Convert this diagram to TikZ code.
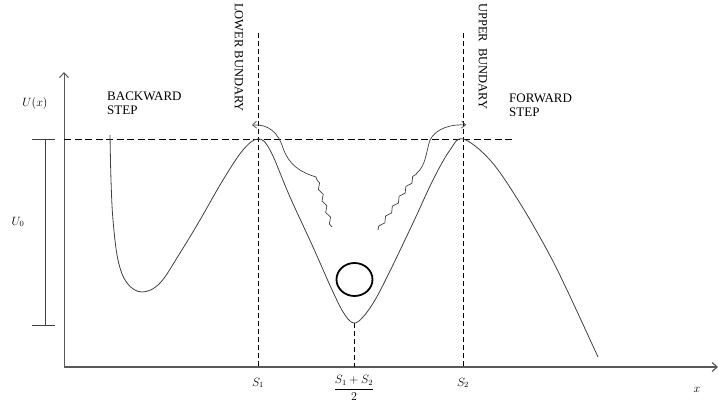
\documentclass[tikz,border=0pt]{standalone}
\usepackage{amsmath}
\usepackage{fontspec}
\setmainfont{Liberation Serif}
\usetikzlibrary{arrows.meta,decorations.pathmorphing}

\tikzset{
  steplbl/.style={font=\fontsize{13}{13.5}\selectfont,align=left,inner sep=0pt,anchor=north west},
  bndlbl/.style={font=\fontsize{12.5}{13.5}\selectfont,inner sep=0pt,rotate=-90,anchor=west},
  mathlbl/.style={font=\fontsize{12}{14}\selectfont,inner sep=1pt},
  potential/.style={black!75,line width=0.8pt},
  wiggle/.style={black!75,line width=0.7pt,decorate,decoration={snake,amplitude=1.6pt,segment length=12pt}},
  jump/.style={black!75,line width=0.7pt,-{Straight Barb[length=4pt,width=7pt]}},
  guide/.style={dash pattern=on 5pt off 3pt,line width=0.6pt},
}

\begin{document}
\begin{tikzpicture}[x=1pt,y=-1pt]
\useasboundingbox (0,0) rectangle (718,411);
% key points
\coordinate (origin) at (64,367);
\coordinate (peakL) at (258,139);
\coordinate (peakR) at (463,139);
\coordinate (well) at (354,323);

% axes
\draw[black!65,line width=1pt,-{Straight Barb[length=5pt,width=9pt]}] (origin) -- (64,72);
\draw[black!65,line width=1.2pt,-{Straight Barb[length=5pt,width=9pt]}] (origin) -- (718,367);
\node[mathlbl] (ulab) at (35,104) {$U(x)$};
\node[mathlbl] (xlab) at (697,390) {$x$};

% barrier height
\draw[black!75] (32,139) -- (55,139);
\draw[black!75] (32,325) -- (55,325);
\draw[black!75] (45,139) -- (45,325);
\node[mathlbl] (u0) at (18,222) {$U_0$};

% boundaries
\draw[guide,dash pattern=on 7pt off 3.5pt] (64,139) -- (512,139);
\draw[guide] (258,33) -- (258,367);
\draw[guide] (463,33) -- (463,367);
\draw[guide] (well) -- (354,367);
\node[bndlbl] (lowb) at (239,3) {LOWER BUNDARY};
\node[bndlbl] (uppb) at (483,3) {UPPER\ \ BUNDARY};
\node[steplbl] (back) at (107,92) {BACKWARD\\STEP};
\node[steplbl] (fwd) at (509,94) {FORWARD\\STEP};

% potential
\draw[potential] plot[smooth,tension=0.6] coordinates {
  (110,135) (111,180) (113,220) (118,260) (127,283) (142,292) (160,283)
  (180,253) (200,220) (223,180) (243,150) (258,139) (270,150) (290,197)
  (313,247) (333,292) (345,315) (354,323) (363,317) (375,300) (390,271)
  (413,223) (433,180) (450,150) (463,139) (490,160) (518,200) (547,250)
  (567,290) (598,357)};

% particle
\draw[line width=1.8pt] (354.5,279.5) ellipse (18 and 16.5);

% thermal jumps
\coordinate (wl0) at (332,227);
\coordinate (wl1) at (316,177);
\coordinate (wr0) at (378,230);
\coordinate (wr1) at (417,173);
\draw[wiggle] (wl0) -- (wl1);
\draw[jump] (wl1) .. controls (300,172) and (289,165) .. (283,148)
  .. controls (278,132) and (268,124) .. (252,125);
\draw[wiggle] (wr0) -- (wr1);
\draw[jump] (wr1) .. controls (426,165) and (426,152) .. (430,140)
  .. controls (436,128) and (452,124) .. (466,125);

% ticks
\node[mathlbl] (s1) at (258,383) {$S_1$};
\node[mathlbl] (smid) at (354,388) {$\dfrac{S_1+S_2}{2}$};
\node[mathlbl] (s2) at (463,383) {$S_2$};
\end{tikzpicture}
\end{document}
